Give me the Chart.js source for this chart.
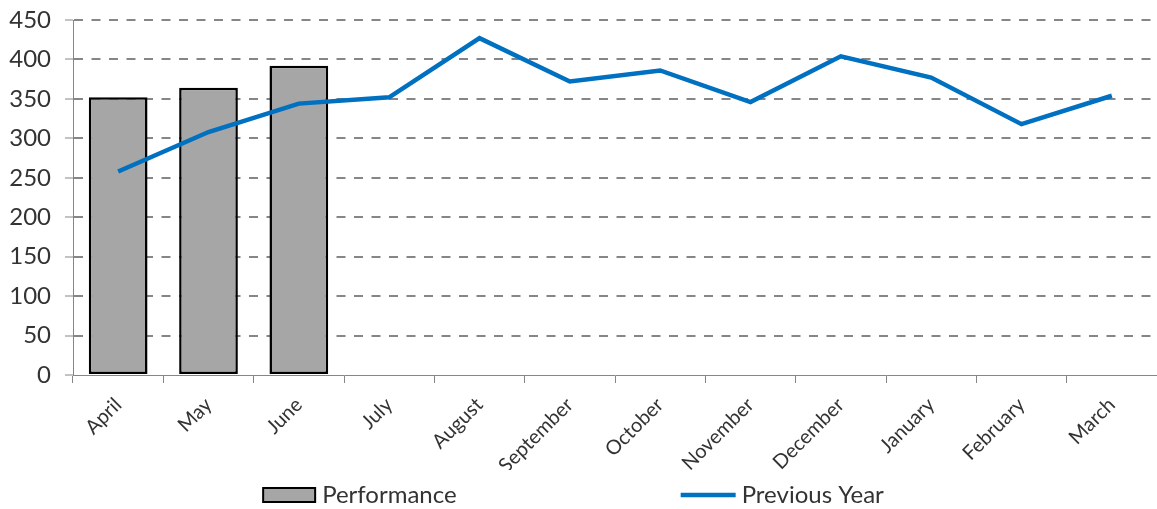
<!DOCTYPE html>
<html>
<head>
<meta charset="utf-8">
<script src="https://cdn.jsdelivr.net/npm/chart.js@4.4.1/dist/chart.umd.min.js"></script>
<style>
  html, body { margin: 0; padding: 0; background: #fff; }
  #wrap { width: 1157px; height: 509px; position: relative; }
</style>
</head>
<body>
<div id="wrap"><canvas id="perfChart"></canvas></div>
<script>
// months of the financial year
var months = ['April', 'May', 'June', 'July', 'August', 'September', 'October',
              'November', 'December', 'January', 'February', 'March'];
// actuals so far (only first quarter reported)
var performance = [352, 364, 392, null, null, null, null, null, null, null, null, null];
// last year's figures
var previousYear = [258, 308, 344, 352, 427, 372, 386, 346, 404, 377, 318, 354];
var yTicks = [0, 50, 100, 150, 200, 250, 300, 350, 400, 450];

var GRID = '#868686';
var TEXT = '#333333';
var FONT = 'Lato, "Open Sans", sans-serif';

// legend drawn under the axis, two items spread apart
var bottomLegend = {
    id: 'bottomLegend',
    afterDraw: function (chart) {
        var ctx = chart.ctx;
        var ds = chart.data.datasets;
        var cy = 495;
        ctx.save();
        ctx.font = '24px ' + FONT;
        var w1 = ctx.measureText(ds[1].label).width;
        var w2 = ctx.measureText(ds[0].label).width;
        var item1 = 52 + 7 + w1, item2 = 55 + 6 + w2, gap = 224;
        var x = (chart.width - (item1 + gap + item2)) / 2 - 5;

        ctx.fillStyle = ds[1].backgroundColor;
        ctx.fillRect(x, cy - 7, 52, 14);
        ctx.lineWidth = 2;
        ctx.strokeStyle = ds[1].borderColor;
        ctx.strokeRect(x, cy - 7, 52, 14);
        ctx.fillStyle = TEXT;
        ctx.textBaseline = 'middle';
        ctx.fillText(ds[1].label, x + 59, cy);

        x += item1 + gap;
        ctx.beginPath();
        ctx.moveTo(x, cy);
        ctx.lineTo(x + 55, cy);
        ctx.lineWidth = 4.5;
        ctx.strokeStyle = ds[0].borderColor;
        ctx.stroke();
        ctx.fillText(ds[0].label, x + 61, cy);
        ctx.restore();
    }
};

var ctx = document.getElementById('perfChart').getContext('2d');
var perfChart = new Chart(ctx, {
    type: 'bar',
    data: {
        labels: months,
        datasets: [
            {
                type: 'line',
                label: 'Previous Year',
                data: previousYear,
                borderColor: '#0070C0',
                backgroundColor: '#0070C0',
                borderWidth: 4.5,
                pointRadius: 0,
                tension: 0,
                order: 0
            },
            {
                type: 'bar',
                label: 'Performance',
                data: performance,
                backgroundColor: '#A6A6A6',
                borderColor: '#000000',
                borderWidth: 2.5,
                borderSkipped: false,
                categoryPercentage: 1,
                barPercentage: 0.65,
                order: 1
            }
        ]
    },
    options: {
        responsive: true,
        maintainAspectRatio: false,
        animation: false,
        layout: { padding: { top: 20, right: 0, bottom: 39, left: 0 } },
        plugins: {
            legend: { display: false },
            tooltip: { enabled: false }
        },
        scales: {
            x: {
                offset: true,
                grid: {
                    display: true,
                    offset: true,
                    drawOnChartArea: false,
                    drawTicks: true,
                    tickLength: 8,
                    tickColor: GRID,
                    tickWidth: 1
                },
                border: { display: true, color: GRID, width: 1 },
                ticks: {
                    color: TEXT,
                    font: { family: FONT, size: 20 },
                    minRotation: 45,
                    maxRotation: 45,
                    padding: 10,
                    autoSkip: false
                },
                afterFit: function (scale) { scale.height = 95; }
            },
            y: {
                min: 0,
                max: 450,
                afterBuildTicks: function (scale) {
                    scale.ticks = yTicks.map(function (v) { return { value: v }; });
                },
                grid: {
                    color: function (c) { return c.tick && c.tick.value === 0 ? 'rgba(0,0,0,0)' : GRID; },
                    lineWidth: 2,
                    tickLength: 8,
                    tickColor: GRID,
                    tickWidth: 1,
                    tickBorderDash: []
                },
                border: { display: true, color: GRID, width: 1, dash: [9, 8.5] },
                ticks: {
                    color: TEXT,
                    font: { family: FONT, size: 24 },
                    padding: 14
                },
                afterFit: function (scale) {
                    scale.width = 73;
                    scale.paddingTop = 0;
                    scale.paddingBottom = 0;
                }
            }
        }
    },
    plugins: [bottomLegend]
});
</script>
</body>
</html>
